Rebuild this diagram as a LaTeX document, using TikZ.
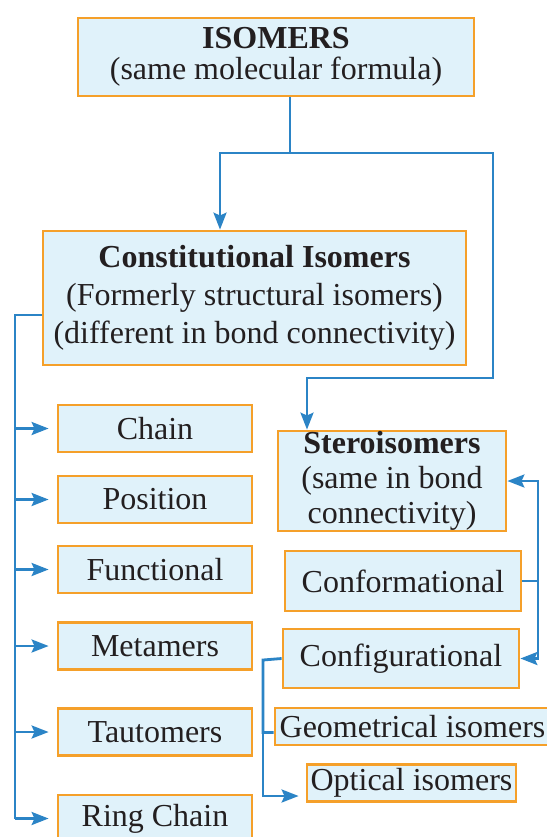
\documentclass[tikz,border=0pt]{standalone}
\usepackage{fontspec}
\setmainfont{Liberation Serif}
\usetikzlibrary{arrows.meta,positioning,calc}
\definecolor{BoxFill}{HTML}{E0F2FA}
\definecolor{BoxEdge}{HTML}{F5A02A}
\definecolor{FlowBlue}{HTML}{2B84C6}
\definecolor{InkDark}{HTML}{231F20}

\begin{document}
\begin{tikzpicture}[x=0.5pt,y=-0.5pt,
        bx/.style={draw=BoxEdge,fill=BoxFill,line width=1.4pt,inner sep=0pt,
                   align=center,text=InkDark,font=\fontsize{16}{19}\selectfont},
        ln/.style={draw=FlowBlue,line width=1.4pt},
        ar/.style={ln,-{Stealth[length=8.5pt,width=6.5pt,inset=1.5pt]}}
      ]
        \clip (0,0) rectangle (547,837);
        \fill[white] (0,0) rectangle (547,837);
        % top level
        \node[bx,minimum width=198pt,minimum height=39pt,
              font=\fontsize{16}{15.5}\selectfont] (iso) at (276,57)
          {\textbf{ISOMERS}\\(same molecular formula)};
        \node[bx,minimum width=211.5pt,minimum height=67pt] (con) at (254.5,298)
          {\textbf{Constitutional Isomers}\\(Formerly structural isomers)\\(different in bond connectivity)};
        \node[bx,minimum width=114pt,minimum height=50pt,
              font=\fontsize{16}{17.5}\selectfont] (ste) at (392,481)
          {\textbf{Steroisomers}\\(same in bond\\connectivity)};
        % constitutional kinds
        \node[bx,minimum width=97pt,minimum height=23.5pt] (chain) at (155,428.5) {Chain};
        \node[bx,minimum width=97pt,minimum height=23.5pt] (posn) at (155,499.5) {Position};
        \node[bx,minimum width=97pt,minimum height=23.5pt] (func) at (155,569.5) {Functional};
        \node[bx,minimum width=97pt,minimum height=23.5pt] (meta) at (155,646) {Metamers};
        \node[bx,minimum width=97pt,minimum height=23.5pt] (taut) at (155,732) {Tautomers};
        \node[bx,minimum width=97pt,minimum height=23.5pt] (ring) at (155,818.5) {Ring Chain};
        % stereo kinds
        \node[bx,minimum width=118pt,minimum height=30pt] (conf) at (403,581) {Conformational};
        \node[bx,minimum width=118pt,minimum height=29.5pt] (cfg) at (401,658.5) {Configurational};
        \node[bx,minimum width=137.5pt,minimum height=18.5pt] (geo) at (412.5,726.5) {Geometrical isomers};
        \node[bx,minimum width=104.5pt,minimum height=18.5pt] (opt) at (411.5,783) {Optical isomers};
        % connectors
        \coordinate (split) at (290,153);
        \coordinate (bend) at (493,378);
        \coordinate (trunk) at (15,315);
        \coordinate (rail) at (538,581);
        \coordinate (crail) at (263,660);
        \draw[ln] (split |- iso.south) -- (split);
        \draw[ar] (split) -| ([xshift=-17.25pt]con.north);
        \draw[ar] (split) -| (bend) -| ([xshift=-42.5pt]ste.north);
        \draw[ln] ([yshift=-8.5pt]con.west) -- (trunk) -- (trunk |- ring.west);
        \foreach \k in {chain,posn,func,meta,taut,ring}
          \draw[ar,shorten >=4pt] (trunk |- \k.west) -- (\k.west);
        \draw[ln] (conf.east) -- (rail);
        \draw[ar] (rail) |- (ste.east);
        \draw[ar] (rail) |- (cfg.east);
        \draw[ln] (cfg.west) -- (crail) |- ([yshift=-3pt]geo.west);
        \draw[ar,shorten >=3.5pt] (crail) |- ([yshift=-6.5pt]opt.west);
      \end{tikzpicture}
\end{document}
